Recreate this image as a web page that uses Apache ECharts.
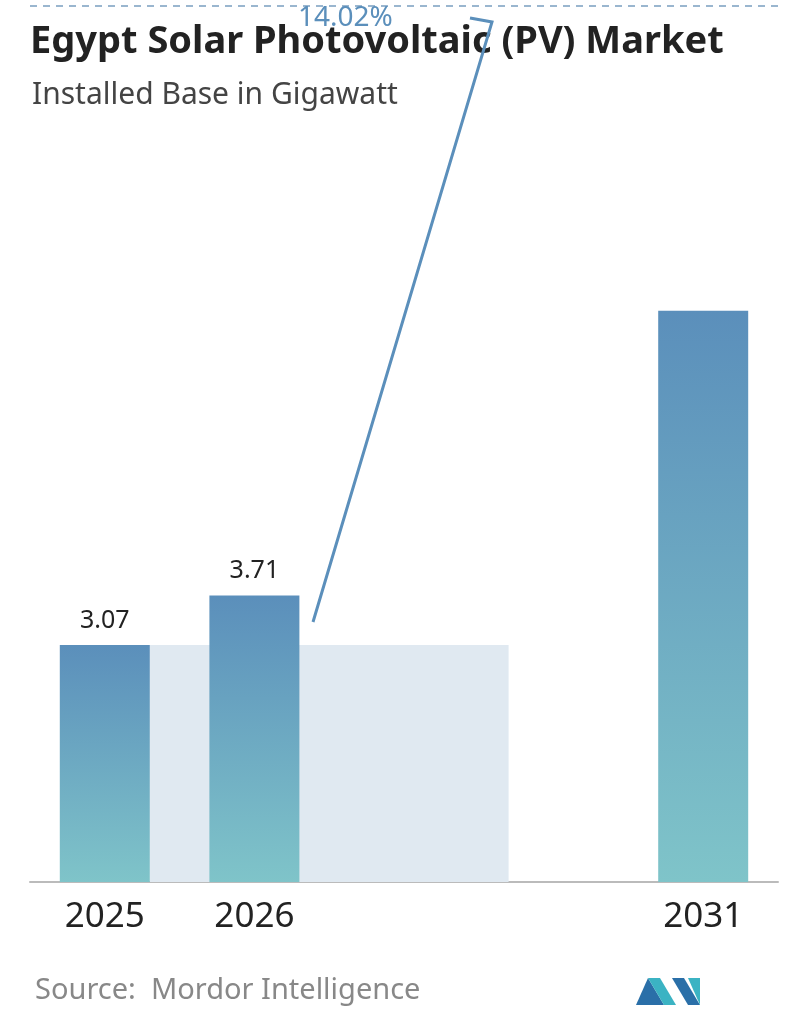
<!DOCTYPE html>
<html>
<head>
<meta charset="utf-8">
<script src="https://cdn.jsdelivr.net/npm/echarts@6/dist/echarts.min.js"></script>
<style>
  html, body { margin: 0; padding: 0; background: #fff; }
  #chart { width: 796px; height: 1034px; }
</style>
</head>
<body>
<div id="chart"></div>
<script>
// data
const categories = ['2025', '2026', '', '', '2031'];
const values = [3.07, 3.71, null, null, 7.4];
const valueLabels = ['3.07', '3.71', '', '', ''];
const cagrText = '14.02%';

const chart = echarts.init(document.getElementById('chart'));

const barColor = new echarts.graphic.LinearGradient(0, 0, 0, 1, [
    {offset: 0, color: '#5b8fbb'},
    {offset: 1, color: '#7fc4c9'}
]);

let option = {
    animation: false,
    grid: {left: 30, right: 18, top: 110, bottom: 152},
    xAxis: {
        type: 'category',
        data: categories,
        axisTick: {show: false},
        axisLine: {lineStyle: {color: '#bbb', width: 2}},
        axisLabel: {fontSize: 35, color: '#222', margin: 18, fontFamily: 'Noto Sans'}
    },
    yAxis: {type: 'value', min: 0, max: 10, show: false},
    series: [
        {
            // light band showing the 2025 level
            type: 'custom',
            z: 1,
            renderItem: (params, api) => {
                if (params.dataIndex !== 0) return;
                const a = api.coord([0, values[0]]);
                const b = api.coord([3, 0]);
                const x0 = a[0] + 45;
                const x1 = b[0] - 45;
                return {
                    type: 'rect',
                    shape: {x: x0, y: a[1], width: x1 - x0, height: b[1] - a[1]},
                    style: {fill: '#e0e9f1'}
                };
            },
            data: [0]
        },
        {
            type: 'bar',
            z: 2,
            barWidth: 90,
            data: values,
            itemStyle: {color: barColor},
            label: {
                show: true,
                position: 'top',
                distance: 12,
                fontSize: 25,
                color: '#222',
                fontFamily: 'Noto Sans',
                formatter: (p) => valueLabels[p.dataIndex]
            }
        }
    ],
    graphic: [
        {type: 'line', shape: {x1: 30, y1: 6, x2: 778, y2: 6},
            style: {stroke: '#7a9ec0', lineWidth: 1.5, lineDash: [7, 6]}},
        {type: 'text', left: 30, top: 23,
            style: {text: 'Egypt Solar Photovoltaic (PV) Market', fontSize: 38, fontWeight: 'bold', fill: '#222', fontFamily: 'Noto Sans'}},
        {type: 'text', left: 32, top: 80,
            style: {text: 'Installed Base in Gigawatt', fontSize: 30, fill: '#444', fontFamily: 'Noto Sans'}},
        {type: 'polyline', z: 10, shape: {points: [[313, 622], [492, 22], [470, 18]]},
            style: {stroke: '#5b8fbb', lineWidth: 3, fill: null}},
        {type: 'text', left: 298, top: 4, z: 9,
            style: {text: cagrText, fontSize: 28, fill: '#5b8fbb', fontFamily: 'Noto Sans'}},
        {type: 'text', left: 35, top: 976,
            style: {text: 'Source:  Mordor Intelligence', fontSize: 29, fill: '#888', fontFamily: 'Noto Sans'}},
        {type: 'polygon', shape: {points: [[636, 1005], [648, 978], [664, 1005]]}, style: {fill: '#2a6fa8'}},
        {type: 'polygon', shape: {points: [[648, 978], [660, 978], [676, 1005], [664, 1005]]}, style: {fill: '#3bb3c3'}},
        {type: 'polygon', shape: {points: [[672, 978], [684, 978], [700, 1005], [688, 1005]]}, style: {fill: '#2a6fa8'}},
        {type: 'polygon', shape: {points: [[688, 978], [700, 978], [700, 1005]]}, style: {fill: '#3bb3c3'}}
    ]
};
chart.setOption(option);
</script>
</body>
</html>
